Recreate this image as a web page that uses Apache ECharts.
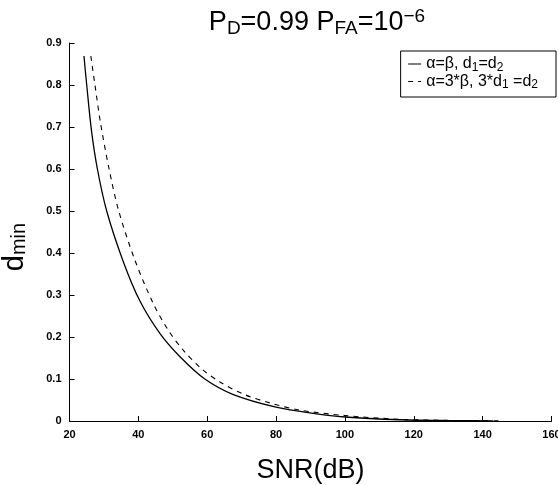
<!DOCTYPE html>
<html>
<head>
<meta charset="utf-8">
<script src="https://cdn.jsdelivr.net/npm/echarts@6/dist/echarts.min.js"></script>
<style>html,body{margin:0;padding:0;background:#fff}#c{width:558px;height:485px}</style>
</head>
<body>
<div id="c"></div>
<script>
// Data
const snrSolid = [24.2, 25.0, 26.4, 28.1, 30.8, 35.6, 40.5, 46.3, 52.1, 59.3, 67.6, 80, 90.8, 100, 116, 130, 143];
const dSolid   = [0.869, 0.80, 0.69, 0.60, 0.50, 0.38, 0.285, 0.208, 0.153, 0.100, 0.063, 0.033, 0.018, 0.0095, 0.003, 0.001, 0.0003];
const snrDash  = [26.2, 27.4, 29.0, 31.5, 34.3, 39.0, 44.3, 48.7, 53.1, 58.4, 63.7, 70.5, 78.2, 86.9, 100, 116, 130, 145];
const dDash    = [0.869, 0.80, 0.71, 0.60, 0.50, 0.383, 0.28, 0.216, 0.168, 0.124, 0.093, 0.064, 0.043, 0.026, 0.013, 0.004, 0.0015, 0.0005];
const seriesNames = ['solid', 'dashed'];
const xTicks = {min: 20, max: 160, interval: 20};
const yTicks = {min: 0, max: 0.9, interval: 0.1};

const pair = (xs, ys) => xs.map((x, i) => [x, ys[i]]);
const font = 'Liberation Sans, Arial, Helvetica, sans-serif';
const chart = echarts.init(document.getElementById('c'), null, {renderer: 'canvas'});
chart.setOption({
  animation: false,
  backgroundColor: '#fff',
  title: {
    text: '{n|P}{s|D}{n|=0.99 P}{s|FA}{n|=10}{p|−6}',
    left: 312, top: 2, textAlign: 'center',
    textStyle: {
      fontFamily: font, fontWeight: 'normal',
      rich: {
        n: {fontSize: 27, fontFamily: font, fontWeight: 'normal', color: '#000'},
        s: {fontSize: 19, fontFamily: font, fontWeight: 'normal', color: '#000', padding: [12, 0, 0, 0]},
        p: {fontSize: 19, fontFamily: font, fontWeight: 'normal', color: '#000', padding: [0, 0, 12, 0]}
      }
    }
  },
  legend: {
    orient: 'vertical',
    right: 2, top: 51,
    itemWidth: 13, itemHeight: 10, itemGap: 0,
    padding: [5, 18, 6, 7],
    borderColor: '#000', borderWidth: 1,
    itemStyle: {opacity: 0},
    lineStyle: {width: 1},
    data: seriesNames,
    formatter: function (name) {
      if (name === 'solid') return '{n|α=β, d}{s|1}{n|=d}{s|2}';
      return '{n|α=3*β, 3*d}{s|1}{n| =d}{s|2}';
    },
    textStyle: {
      fontFamily: font, color: '#000',
      rich: {
        n: {fontSize: 16, fontFamily: font, color: '#000'},
        s: {fontSize: 12, fontFamily: font, color: '#000', padding: [7, 0, 0, 0]}
      }
    }
  },
  grid: {left: 69.5, right: 6.5, top: 43, bottom: 64, containLabel: false, outerBoundsMode: 'none'},
  xAxis: {
    type: 'value', min: xTicks.min, max: xTicks.max, interval: xTicks.interval,
    name: 'SNR(dB)', nameLocation: 'middle', nameGap: 36,
    nameTextStyle: {fontFamily: font, fontSize: 27, color: '#000'},
    axisLine: {show: true, lineStyle: {color: '#000', width: 1}},
    axisTick: {show: true, inside: true, length: 5, lineStyle: {color: '#000'}},
    axisLabel: {fontFamily: font, fontSize: 11, fontWeight: 'bold', color: '#000', margin: 8},
    splitLine: {show: false}
  },
  yAxis: {
    type: 'value', min: yTicks.min, max: yTicks.max, interval: yTicks.interval,
    name: '{n|d}{s|min}', nameLocation: 'middle', nameGap: 40, nameRotate: 90,
    nameTextStyle: {
      fontFamily: font, color: '#000', padding: [0, 30, 0, 0],
      rich: {
        n: {fontSize: 29, fontFamily: font, color: '#000'},
        s: {fontSize: 20, fontFamily: font, color: '#000', padding: [10, 0, 0, 0]}
      }
    },
    axisLine: {show: true, lineStyle: {color: '#000', width: 1}},
    axisTick: {show: true, inside: true, length: 5, lineStyle: {color: '#000'}},
    axisLabel: {fontFamily: font, fontSize: 11, fontWeight: 'bold', color: '#000', margin: 8},
    splitLine: {show: false}
  },
  series: [
    {
      name: seriesNames[0], type: 'line', data: pair(snrSolid, dSolid),
      showSymbol: false, symbol: 'none', smooth: 0.3,
      lineStyle: {color: '#000', width: 1.3, type: 'solid'},
      itemStyle: {color: '#000'}
    },
    {
      name: seriesNames[1], type: 'line', data: pair(snrDash, dDash),
      showSymbol: false, symbol: 'none', smooth: 0.3,
      lineStyle: {color: '#000', width: 1.1, type: [5, 5]},
      itemStyle: {color: '#000'}
    }
  ]
});
</script>
</body>
</html>
